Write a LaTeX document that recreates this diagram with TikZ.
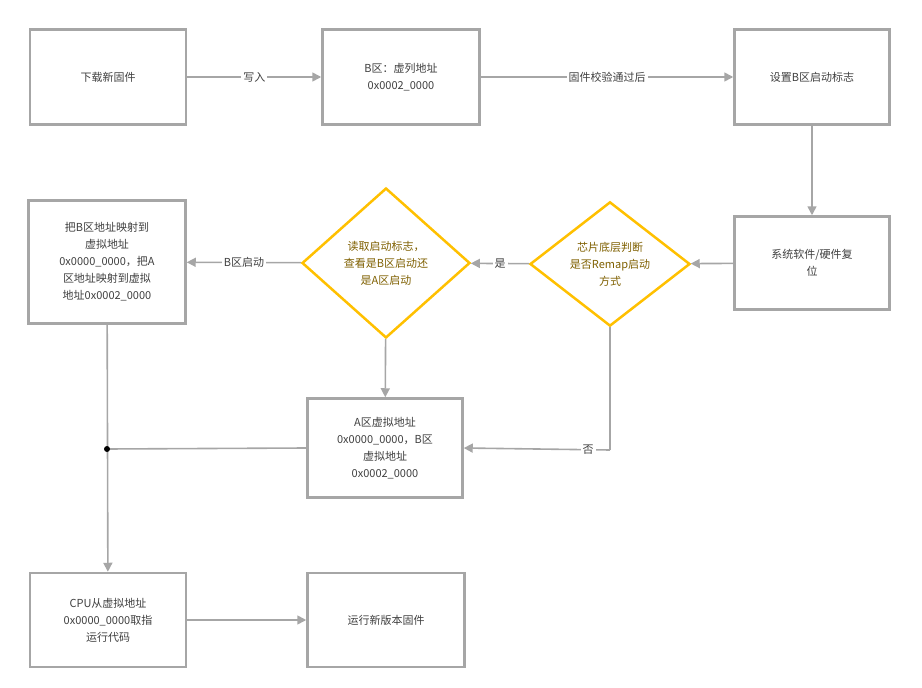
\documentclass[tikz,border=0pt]{standalone}
\usepackage{fontspec}
\setmainfont{Noto Sans CJK SC}
\usetikzlibrary{positioning, shapes.geometric, arrows.meta}
\definecolor{lgray}{RGB}{166,166,166}
\definecolor{txt}{RGB}{64,64,64}
\definecolor{gold}{RGB}{255,192,0}
\definecolor{dgold}{RGB}{127,96,0}
\tikzset{
  Box/.style={draw=lgray, line width=2.5pt, fill=white, text=txt, align=center,
    font=\fontsize{11}{17}\selectfont, inner sep=2pt},
  Dec/.style={diamond, draw=gold, line width=2.5pt, fill=white, text=dgold, align=center,
    font=\fontsize{11}{17}\selectfont, inner sep=0pt},
  Arrow/.style={draw=lgray, line width=1.6pt, -{Triangle[length=9pt,width=9pt]}},
  Line/.style={draw=lgray, line width=1.6pt},
  Lab/.style={fill=white, text=txt, font=\fontsize{11}{13}\selectfont, inner sep=2pt}
}
\begin{document}
\begin{tikzpicture}[x=1pt, y=-1pt]
    \useasboundingbox (0,0) rectangle (922,688);
    \node[Box, minimum width=156pt, minimum height=95pt] (dl) at (108,77) {下载新固件};
    \node[Box, minimum width=157pt, minimum height=95pt] (bz) at (401,77) {B区：虚列地址\\0x0002\_0000};
    \node[Box, minimum width=155pt, minimum height=95pt] (flag) at (812,77) {设置B区启动标志};
    \node[Box, minimum width=155pt, minimum height=93pt] (rst) at (812,263) {系统软件/硬件复\\位};
    \node[Dec, minimum width=160pt, minimum height=108pt] (remap) at (610,264) {芯片底层判断\\是否Remap启动\\方式};
    \node[Dec, minimum width=168pt, minimum height=150pt] (read) at (386,263) {读取启动标志，\\查看是B区启动还\\是A区启动};
    \node[Box, minimum width=157pt, minimum height=123pt] (mapb) at (107,262) {把B区地址映射到\\虚拟地址\\0x0000\_0000，把A\\区地址映射到虚拟\\地址0x0002\_0000};
    \node[Box, minimum width=155pt, minimum height=99pt] (mapa) at (385,448) {A区虚拟地址\\0x0000\_0000，B区\\虚拟地址\\0x0002\_0000};
    \node[Box, minimum width=156pt, minimum height=94pt] (cpu) at (108,620) {CPU从虚拟地址\\0x0000\_0000取指\\运行代码};
    \node[Box, minimum width=157pt, minimum height=94pt] (run) at (386,620) {运行新版本固件};
    \coordinate (dot) at (107,449);
    \coordinate (no) at (610,450);

    \draw[Arrow] (dl) -- node[Lab] {写入} (bz);
    \draw[Arrow] (bz) -- node[Lab] {固件校验通过后} (flag);
    \draw[Arrow] (flag) -- (rst);
    \draw[Arrow] (rst) -- (remap);
    \draw[Arrow] (remap) -- node[Lab] {是} (read);
    \draw[Arrow] (read) -- node[Lab] {B区启动} (mapb);
    \draw[Arrow] (read) -- (mapa);
    \draw[Line] (remap.south) -- (no);
    \draw[Arrow] (no) -- node[Lab, pos=0.15] {否} (mapa.east);
    \draw[Line] (mapa.west) -- (dot);
    \draw[Arrow] (mapb) -- (cpu);
    \fill (dot) circle (3pt);
    \draw[Arrow] (cpu) -- (run);
\end{tikzpicture}
\end{document}
